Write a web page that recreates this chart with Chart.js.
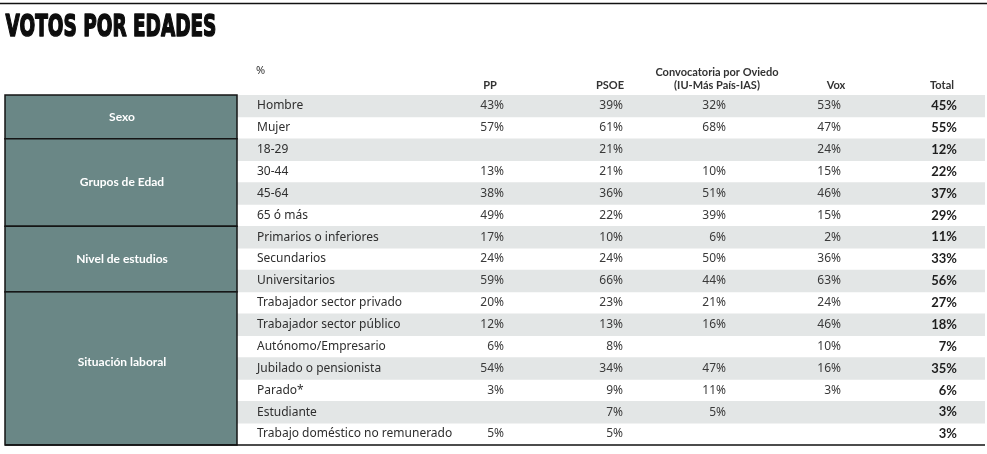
<!DOCTYPE html>
<html>
<head>
<meta charset="utf-8">
<script src="https://cdn.jsdelivr.net/npm/chart.js@4.4.1/dist/chart.umd.min.js"></script>
<style>
  html, body { margin: 0; padding: 0; background: #fff; }
  canvas { display: block; }
</style>
</head>
<body>
<canvas id="tabla" width="987" height="454"></canvas>
<script>
// Datos de la tabla (filas y columnas)
const rowLabels = [
  'Hombre', 'Mujer',
  '18-29', '30-44', '45-64', '65 ó más',
  'Primarios o inferiores', 'Secundarios', 'Universitarios',
  'Trabajador sector privado', 'Trabajador sector público', 'Autónomo/Empresario',
  'Jubilado o pensionista', 'Parado*', 'Estudiante', 'Trabajo doméstico no remunerado'
];
const groupNames = ['Sexo', 'Grupos de Edad', 'Nivel de estudios', 'Situación laboral'];
const groupSizes = [2, 4, 3, 7];
const columnHeaders = [['PP'], ['PSOE'], ['Convocatoria por Oviedo', '(IU-Más País-IAS)'], ['Vox'], ['Total']];

const pp     = [43, 57, null, 13, 38, 49, 17, 24, 59, 20, 12, 6, 54, 3, null, 5];
const psoe   = [39, 61, 21, 21, 36, 22, 10, 24, 66, 23, 13, 8, 34, 9, 7, 5];
const convoc = [32, 68, null, 10, 51, 39, 6, 50, 44, 21, 16, null, 47, 11, 5, null];
const vox    = [53, 47, 24, 15, 46, 15, 2, 36, 63, 24, 46, 10, 16, 3, null, null];
const total  = [45, 55, 12, 22, 37, 29, 11, 33, 56, 27, 18, 7, 35, 6, 3, 3];

// Layout (posiciones en píxeles del eje x)
const X_MIN = 237;
const X_MAX = 985;
const colRight = [504, 623, 726, 841, 957];   // borde derecho de los valores
const headCenter = [490, 610, 717, 836, 942];
const groupLabelNudge = [0, 0, 0, -6];
const BLOCK_LEFT = 5;
const GROUP_COLOR = '#6a8786';
const STRIPE = '#e3e6e6';

function drawTitle(ctx, text, x, baseline, targetWidth) {
  ctx.save();
  ctx.font = 'bold 30px "DejaVu Sans", sans-serif';
  const w = ctx.measureText(text).width;
  ctx.translate(x + 0.6, baseline);
  ctx.scale((targetWidth - 1.2) / w, 1);
  ctx.fillStyle = '#0d0d0d';
  ctx.strokeStyle = '#0d0d0d';
  ctx.lineWidth = 1.6;
  ctx.lineJoin = 'round';
  ctx.textAlign = 'left';
  ctx.textBaseline = 'alphabetic';
  ctx.fillText(text, 0, 0);
  ctx.strokeText(text, 0, 0);
  ctx.restore();
}

const tablePlugin = {
  id: 'tablaVotos',
  afterDraw(chart) {
    const ctx = chart.ctx;
    const xs = chart.scales.x;
    const ys = chart.scales.y;
    const area = chart.chartArea;
    const band = (ys.getPixelForValue(1) - ys.getPixelForValue(0));

    // Línea superior y título
    ctx.save();
    ctx.strokeStyle = '#111';
    ctx.lineWidth = 1.5;
    ctx.beginPath();
    ctx.moveTo(0, 3.5);
    ctx.lineTo(chart.width, 3.5);
    ctx.stroke();
    ctx.restore();
    drawTitle(ctx, 'VOTOS POR EDADES', 5, 36, 212);

    // Cabeceras
    ctx.save();
    ctx.fillStyle = '#333';
    ctx.textBaseline = 'middle';
    ctx.font = '11px "Noto Sans", sans-serif';
    ctx.textAlign = 'left';
    ctx.fillText('%', 256, 71);
    ctx.font = 'bold 11px Lato, sans-serif';
    ctx.textAlign = 'center';
    columnHeaders.forEach((lines, c) => {
      if (lines.length === 1) {
        ctx.fillText(lines[0], xs.getPixelForValue(headCenter[c]), 85);
      } else {
        ctx.fillText(lines[0], xs.getPixelForValue(headCenter[c]), 72);
        ctx.fillText(lines[1], xs.getPixelForValue(headCenter[c]), 85);
      }
    });
    ctx.restore();

    // Bloques de grupo
    let start = 0;
    groupSizes.forEach((n, g) => {
      const top = ys.getPixelForValue(start) - band / 2;
      const bottom = ys.getPixelForValue(start + n - 1) + band / 2;
      ctx.save();
      ctx.fillStyle = GROUP_COLOR;
      ctx.fillRect(BLOCK_LEFT, top, area.left - BLOCK_LEFT, bottom - top);
      ctx.strokeStyle = '#151515';
      ctx.lineWidth = 1.5;
      ctx.strokeRect(BLOCK_LEFT, top, area.left - BLOCK_LEFT, bottom - top);
      ctx.fillStyle = '#fff';
      ctx.font = 'bold 12px Lato, sans-serif';
      ctx.textAlign = 'center';
      ctx.textBaseline = 'middle';
      ctx.fillText(groupNames[g], (BLOCK_LEFT + area.left) / 2 + 1, (top + bottom) / 2 + groupLabelNudge[g]);
      ctx.restore();
      start += n;
    });

    // Etiquetas de fila y valores
    const series = [pp, psoe, convoc, vox, total];
    ctx.save();
    ctx.textBaseline = 'middle';
    rowLabels.forEach((label, i) => {
      const y = ys.getPixelForValue(i);
      ctx.fillStyle = '#2e2e2e';
      ctx.font = '12px "Noto Sans", sans-serif';
      ctx.textAlign = 'left';
      ctx.fillText(label, 257, y);
      ctx.textAlign = 'right';
      series.forEach((s, c) => {
        if (s[i] === null) return;
        if (c === series.length - 1) {
          ctx.font = 'bold 13px Lato, sans-serif';
          ctx.fillStyle = '#1e1e1e';
        } else {
          ctx.font = '12px "Noto Sans", sans-serif';
          ctx.fillStyle = '#3a3a3a';
        }
        ctx.fillText(s[i] + '%', xs.getPixelForValue(colRight[c]), y);
      });
    });
    ctx.restore();

    // Línea inferior
    ctx.save();
    ctx.strokeStyle = '#111';
    ctx.lineWidth = 1.5;
    ctx.beginPath();
    ctx.moveTo(BLOCK_LEFT, area.bottom);
    ctx.lineTo(area.right, area.bottom);
    ctx.stroke();
    ctx.restore();
  }
};

new Chart(document.getElementById('tabla').getContext('2d'), {
  type: 'bar',
  data: {
    labels: rowLabels,
    datasets: [{
      label: 'fondo',
      // franjas grises alternas
      data: rowLabels.map((_, i) => (i % 2 === 0 ? [X_MIN, X_MAX] : null)),
      backgroundColor: STRIPE,
      borderWidth: 0,
      barPercentage: 1,
      categoryPercentage: 1,
    }]
  },
  options: {
    indexAxis: 'y',
    responsive: false,
    animation: false,
    layout: { padding: { left: X_MIN, right: 987 - X_MAX, top: 95, bottom: 9 } },
    scales: {
      x: { display: false, min: X_MIN, max: X_MAX },
      y: { display: false }
    },
    plugins: {
      legend: { display: false },
      tooltip: { enabled: false }
    }
  },
  plugins: [tablePlugin]
});
</script>
</body>
</html>
